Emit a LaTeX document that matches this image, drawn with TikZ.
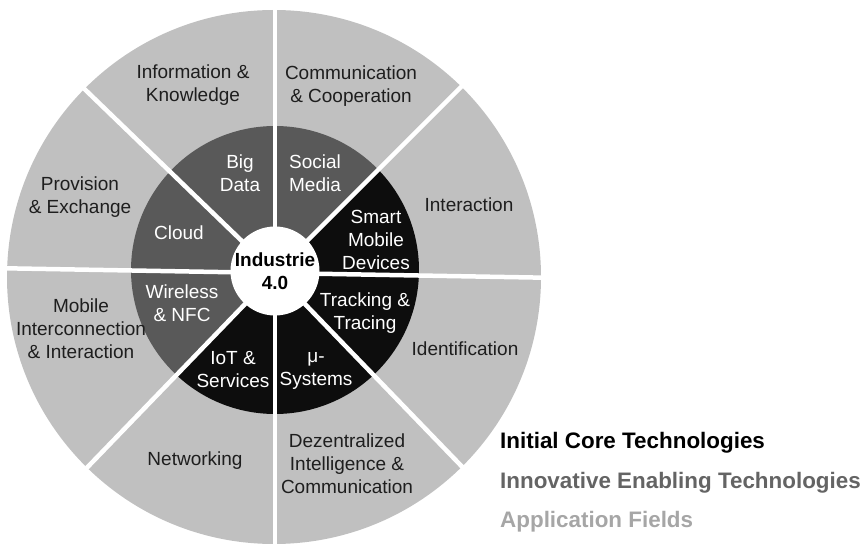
\documentclass[tikz,border=0pt]{standalone}
\usepackage{fontspec}
\setmainfont{Liberation Sans}
\usetikzlibrary{positioning}

\definecolor{fieldgray}{RGB}{192,192,192}
\definecolor{enablegray}{RGB}{89,89,89}
\definecolor{coreblack}{RGB}{13,13,13}
\definecolor{labelgray}{RGB}{30,30,30}
\definecolor{enabletext}{RGB}{100,100,100}
\definecolor{fieldtext}{RGB}{166,166,166}

\begin{document}
\begin{tikzpicture}[
    x=1pt, y=1pt,
    every node/.style={font=\fontsize{19}{23}\selectfont, inner sep=0},
    field/.style={align=center, text=labelgray},
    tech/.style={align=center, text=white},
    divider/.style={draw=white, line width=4.5pt},
    legend/.style={font=\fontsize{22.4}{26}\selectfont\bfseries, anchor=west},
    ]
    \useasboundingbox (0, 0) rectangle (866, 546);

    \coordinate (outer-c) at (274, 269);
    \coordinate (ring-c) at (275, 276);
    \coordinate (hub-c) at (275, 273);

    % outer ring and the two halves of the inner ring
    \fill [fieldgray] (outer-c) circle [radius=267];
    \fill [enablegray] (ring-c) -- ++(45:144)
        arc [start angle=45, end angle=226, radius=144] -- cycle;
    \fill [coreblack] (ring-c) -- ++(226:144)
        arc [start angle=226, end angle=405, radius=144] -- cycle;

    \foreach \a in {-1, 45, 90, 136, 179, 226, 270, 314} {
        \draw [divider] (hub-c) -- ++(\a:272);
    }

    \node (hub) [circle, fill=white, minimum size=89pt, align=center,
        font=\fontsize{19}{23}\selectfont\bfseries] at (275, 275)
        {Industrie\\4.0};

    % application fields
    \node (info) [field] at (193, 461) {Information \&\\Knowledge};
    \node (comm) [field] at (351, 460) {Communication\\\& Cooperation};
    \node (interact) [field] at (469, 341) {Interaction};
    \node (ident) [field] at (465, 197) {Identification};
    \node (dezentral) [field] at (347, 82)
        {Dezentralized\\Intelligence \&\\Communication};
    \node (networking) [field] at (195, 85) {Networking};
    \node (mobile) [field] at (81, 217)
        {Mobile\\Interconnection\\\& Interaction};
    \node (provision) [field] at (80, 349) {Provision\\\& Exchange};

    % enabling technologies
    \node (bigdata) [tech] at (240, 373) {Big\\Data};
    \node (social) [tech] at (315, 373) {Social\\Media};
    \node (cloud) [tech] at (179, 313) {Cloud};
    \node (wireless) [tech] at (182, 243) {Wireless\\\& NFC};

    % core technologies
    \node (smart) [tech] at (376, 306) {Smart\\Mobile\\Devices};
    \node (tracking) [tech] at (365, 233) {Tracking \&\\Tracing};
    \node (micro) [tech] at (316, 175) {μ-\\Systems};
    \node (iot) [tech] at (233, 176) {IoT \&\\Services};

    \node (lgd-core) [legend] at (500, 103) {Initial Core Technologies};
    \node (lgd-enabling) [legend, text=enabletext, below=39.5pt of lgd-core.west,
        anchor=west] {Innovative Enabling Technologies};
    \node (lgd-field) [legend, text=fieldtext, below=39.5pt of lgd-enabling.west,
        anchor=west] {Application Fields};
\end{tikzpicture}
\end{document}
